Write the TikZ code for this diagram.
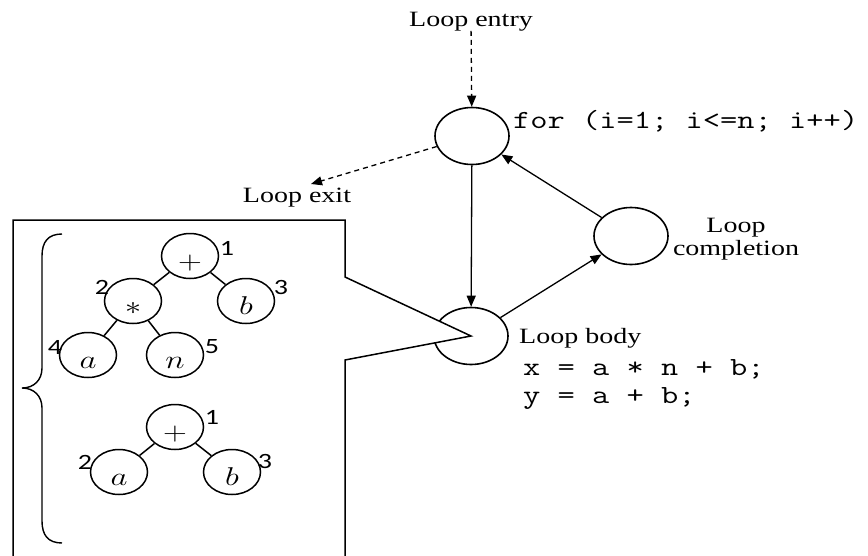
\RequirePackage{fix-cm}
\documentclass[tikz,border=0pt]{standalone}
\usepackage{fontspec}
\setmainfont{Liberation Serif}
\newfontfamily\numfont{Carlito}
\usepackage{graphicx}
\usetikzlibrary{shapes.geometric,arrows.meta}
\newcommand{\sq}[1]{\scalebox{1}[0.78]{#1}}
\begin{document}
\begin{tikzpicture}[x=1pt,y=-1pt,
  lbl/.style={inner sep=0pt,font=\fontsize{28}{30}\selectfont},
  code/.style={inner sep=0pt,font=\ttfamily\fontsize{33.5}{35}\selectfont},
  bignode/.style={ellipse,draw,line width=1.6pt,minimum width=74pt,minimum height=57pt,inner sep=0pt},
  tnode/.style={ellipse,draw,line width=1.5pt,minimum width=57pt,minimum height=45pt,inner sep=0pt,text height=26pt,text depth=0pt,font=\fontsize{33}{36}\selectfont},
  num/.style={inner sep=0pt,font=\numfont\fontsize{28}{30}\selectfont},
  arr/.style={line width=1.3pt,-{Triangle[length=11pt,width=9pt]}},
  darr/.style={arr,dash pattern=on 5pt off 4pt},
  tedge/.style={line width=1.5pt},
  callout/.style={line width=1.5pt,fill=white}]
\useasboundingbox (0,0) rectangle (868,555);
% main loop graph
\node[lbl,anchor=base] (entry) at (471,26) {\sq{Loop entry}};
\node[bignode] (for) at (472,136) {};
\node[code,anchor=west] (fortext) at (513,121) {\sq{for (i=1; i<=n; i++)}};
\node[lbl,anchor=base] (exit) at (297,202) {\sq{Loop exit}};
\coordinate (exittip) at (311,184);
\node[bignode] (body) at (471,336) {};
\node[bignode] (comp) at (631,236) {};
\node[lbl,anchor=base west] (bodytext) at (519,343) {\sq{Loop body}};
\node[code,anchor=base west] (code1) at (523,375) {\sq{x = a * n + b;}};
\node[code,anchor=base west] (code2) at (523,403) {\sq{y = a + b;}};
\node[lbl,anchor=base] (comp1) at (736,232) {\sq{Loop}};
\node[lbl,anchor=base] (comp2) at (736,255) {\sq{completion}};
\draw[darr] (entry) -- (for);
\draw[darr] (for) -- (exittip);
\draw[arr] (for) -- (body);
\draw[arr] (body) -- (comp);
\draw[arr] (comp) -- (for);
% callout box
\filldraw[callout] (13,565) -- (13,220) -- (345,220) -- (345,277) -- (body.center) -- (345,360) -- (345,565);
% brace
\draw[line width=1.4pt] (62,234) .. controls (48,234) and (42,242) .. (42,256) -- (42,368)
  .. controls (42,380) and (34,388) .. (22,388)
  .. controls (34,388) and (42,396) .. (42,408) -- (42,521)
  .. controls (42,535) and (48,543) .. (62,543);
% tree 1
\node[tnode] (p1) at (190,256) {\sq{$+$}};
\node[tnode] (m1) at (133,301) {\sq{$\ast$}};
\node[tnode] (b1) at (246,301) {\sq{$b$}};
\node[tnode] (a1) at (88,355) {\sq{$a$}};
\node[tnode] (n1) at (175,355) {\sq{$n$}};
\draw[tedge] (p1) -- (m1);
\draw[tedge] (p1) -- (b1);
\draw[tedge] (m1) -- (a1);
\draw[tedge] (m1) -- (n1);
\node[num] (t1n1) at (227,248) {\sq{1}};
\node[num] (t1n2) at (102,287) {\sq{2}};
\node[num] (t1n3) at (281,287) {\sq{3}};
\node[num] (t1n4) at (55,347) {\sq{4}};
\node[num] (t1n5) at (212,347) {\sq{5}};
% tree 2
\node[tnode] (p2) at (175,427) {\sq{$+$}};
\node[tnode] (a2) at (119,472) {\sq{$a$}};
\node[tnode] (b2) at (232,472) {\sq{$b$}};
\draw[tedge] (p2) -- (a2);
\draw[tedge] (p2) -- (b2);
\node[num] (t2n1) at (212,417) {\sq{1}};
\node[num] (t2n2) at (85,462) {\sq{2}};
\node[num] (t2n3) at (265,461) {\sq{3}};
\end{tikzpicture}
\end{document}
